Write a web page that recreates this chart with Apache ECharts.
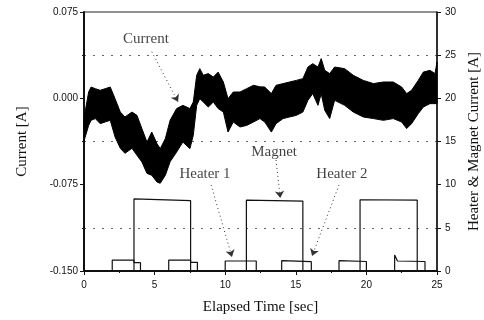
<!DOCTYPE html>
<html>
<head>
<meta charset="utf-8">
<title>Current vs elapsed time</title>
<script src="https://cdn.jsdelivr.net/npm/echarts@6/dist/echarts.min.js"></script>
<style type="text/css">
html, body{
    margin: 0;
    padding: 0;
    background: #fff;
}
#chart{
    width: 484px;
    height: 320px;
}
</style>
</head>
<body>
<div id="chart"></div>
<script>
// current band: upper / lower envelope of the noisy trace [A]
var timeSec = [0,0.33,0.5,0.8,1.15,1.5,1.86,2.2,2.57,2.9,3.4,3.75,4.1,4.46,4.8,5.17,5.4,5.76,6.1,6.56,7.0,7.5,7.74,7.98,8.2,8.45,8.8,9.16,9.5,9.87,10.2,10.57,11.05,11.52,12.0,12.46,12.8,13.27,13.6,14.1,14.56,15.04,15.5,15.86,16.2,16.57,16.8,17.05,17.4,17.75,18.46,19.07,19.78,20.5,21.2,21.9,22.5,22.85,23.2,23.67,24.03,24.5,24.86,25];
var currentUpper = [-0.017,0.0055,0.0098,0.0084,0.0070,0.0084,0.0098,-0.0003,-0.0119,-0.0162,-0.0119,-0.0148,-0.0263,-0.0380,-0.0293,-0.0394,-0.0437,-0.0350,-0.0190,-0.0089,-0.0061,-0.0089,-0.0032,0.0200,0.0258,0.0200,0.0215,0.0185,0.0228,0.0142,-0.0003,0.0055,0.0055,0.0084,0.0113,0.0100,0.0098,0.0041,0.0113,0.0128,0.0142,0.0156,0.0171,0.0272,0.0301,0.0272,0.0345,0.0243,0.0215,0.0272,0.0258,0.0200,0.0156,0.0128,0.0142,0.0142,0.0098,0.0041,0.0070,0.0156,0.0228,0.0243,0.0215,0.0315];
var currentLower = [-0.037,-0.0235,-0.0191,-0.0176,-0.0220,-0.0205,-0.0191,-0.0336,-0.0434,-0.0478,-0.0434,-0.0495,-0.0553,-0.0652,-0.0669,-0.0727,-0.0738,-0.0669,-0.0550,-0.0467,-0.0380,-0.0437,-0.0321,-0.0061,-0.0003,-0.0032,-0.0076,-0.0032,-0.0089,-0.0119,-0.0293,-0.0206,-0.0249,-0.0235,-0.0206,-0.0176,-0.0206,-0.0293,-0.0220,-0.0176,-0.0162,-0.0148,-0.0119,-0.0017,0.0041,-0.0061,0.0041,-0.0104,-0.0176,-0.0017,-0.0061,-0.0119,-0.0162,-0.0176,-0.0191,-0.0176,-0.0206,-0.0263,-0.0220,-0.0133,-0.0076,-0.0046,-0.0046,-0.0046];

// heater & magnet traces [sec, A] (right axis)
var magnetPts = [[0,0],[3.54,0],[3.54,8.35],[7.55,8.15],[7.55,0],[11.5,0],[11.5,8.2],[15.5,8.1],[15.5,0],[19.55,0],[19.55,8.25],[23.6,8.2],[23.6,0],[25,0]];
var heater1Pts = [[0,0],[2.0,0],[2.0,1.27],[3.54,1.27],[3.54,0.96],[4.0,0.96],[4.0,0],[10.0,0],[10.0,1.16],[12.2,1.16],[12.2,0],[18.06,0],[18.06,1.2],[20.0,1.1],[20.0,0],[25,0]];
var heater2Pts = [[0,0],[6.0,0],[6.0,1.27],[7.55,1.27],[7.55,1.0],[8.03,1.0],[8.03,0],[14.0,0],[14.0,1.2],[16.1,1.08],[16.1,0],[22.0,0],[22.0,1.85],[22.2,1.16],[24.15,1.1],[24.15,0],[25,0]];

// annotations (right axis units)
var noteNames = ['Current', 'Heater 1', 'Magnet', 'Heater 2'];
var notePos = [[4.39, 26.9], [8.57, 11.24], [13.46, 13.79], [18.27, 11.24]];
var arrowFrom = [[4.8, 25.4], [9.0, 9.97], [13.6, 12.86], [18.06, 9.97]];
var arrowTo = [[6.66, 19.6], [10.48, 1.62], [13.9, 8.46], [16.15, 1.74]];

var xTicks = [0, 25, 5];
var leftTicks = [-0.15, 0.075, 0.075];
var rightTicks = [0, 30, 5];

var chart = echarts.init(document.getElementById('chart'));

var bandData = timeSec.map((t, i) => [t, currentUpper[i], currentLower[i]]);
var noteData = noteNames.map((n, i) => ({name: n, value: notePos[i]}));
var arrowData = arrowFrom.map((p, i) => [{coord: p}, {coord: arrowTo[i]}]);

// whole envelope as one polygon: upper edge forward, lower edge back
var renderBand = (params, api) => {
    if (params.dataIndex !== 0) return null;
    var pts = [];
    for (var i = 0; i < timeSec.length; i++) pts.push(api.coord([timeSec[i], currentUpper[i]]));
    for (var j = timeSec.length - 1; j >= 0; j--) pts.push(api.coord([timeSec[j], currentLower[j]]));
    return {
        type: 'polygon',
        shape: {points: pts},
        style: {fill: '#000', stroke: '#000', lineWidth: 1}
    };
};

var tickFont = {fontFamily: 'Liberation Sans', fontSize: 10, color: '#111'};
var nameFont = {fontFamily: 'Liberation Serif', fontSize: 15, color: '#111'};

var traceLine = {color: '#111', width: 1.2};

chart.setOption({
    animation: false,
    grid: {
        left: 84, right: 47, top: 12, bottom: 49,
        outerBoundsMode: 'none',
        show: true, borderColor: '#222', borderWidth: 1
    },
    xAxis: {
        type: 'value',
        min: xTicks[0], max: xTicks[1], interval: xTicks[2],
        name: 'Elapsed Time [sec]',
        nameLocation: 'middle', nameGap: 29,
        nameTextStyle: nameFont,
        axisLine: {onZero: false, lineStyle: {color: '#111', width: 2}},
        axisTick: {inside: false, length: 4, lineStyle: {color: '#111'}},
        minorTick: {show: true, splitNumber: 2, length: 2, lineStyle: {color: '#111'}},
        axisLabel: Object.assign({margin: 9}, tickFont),
        splitLine: {show: false}
    },
    yAxis: [
        {
            type: 'value',
            min: leftTicks[0], max: leftTicks[1], interval: leftTicks[2],
            name: 'Current [A]',
            nameLocation: 'middle', nameGap: 54, nameRotate: 90,
            nameTextStyle: nameFont,
            axisLine: {show: true, onZero: false, lineStyle: {color: '#111', width: 2}},
            axisTick: {show: true, inside: false, length: 4, lineStyle: {color: '#111'}},
            minorTick: {show: true, splitNumber: 2, length: 2, lineStyle: {color: '#111'}},
            axisLabel: Object.assign({
                margin: 6,
                formatter: v => (Math.abs(v) < 1e-9 ? 0 : v).toFixed(3)
            }, tickFont),
            splitLine: {show: false},
            minorSplitLine: {show: true, lineStyle: {color: '#666', width: 1, type: [2, 7]}}
        },
        {
            type: 'value',
            position: 'right',
            min: rightTicks[0], max: rightTicks[1], interval: rightTicks[2],
            name: 'Heater & Magnet Current [A]',
            nameLocation: 'middle', nameGap: 29, nameRotate: 90,
            nameTextStyle: nameFont,
            axisLine: {show: true, onZero: false, lineStyle: {color: '#111', width: 1.5}},
            axisTick: {show: true, inside: false, length: 4, lineStyle: {color: '#111'}},
            axisLabel: Object.assign({margin: 8}, tickFont),
            splitLine: {show: false}
        }
    ],
    series: [
        {
            type: 'custom', yAxisIndex: 0,
            data: bandData,
            encode: {x: 0, y: [1, 2]},
            renderItem: renderBand,
            silent: true
        },
        {type: 'line', yAxisIndex: 1, data: magnetPts, symbol: 'none', lineStyle: traceLine},
        {type: 'line', yAxisIndex: 1, data: heater1Pts, symbol: 'none', lineStyle: traceLine},
        {type: 'line', yAxisIndex: 1, data: heater2Pts, symbol: 'none', lineStyle: traceLine},
        {
            type: 'scatter', yAxisIndex: 1,
            data: noteData, symbolSize: 0, silent: true,
            label: {
                show: true, position: 'inside',
                formatter: p => p.name,
                fontFamily: 'Liberation Serif', fontSize: 15, color: '#111'
            },
            markLine: {
                silent: true,
                symbol: ['none', 'arrow'], symbolSize: 7,
                label: {show: false},
                lineStyle: {color: '#333', width: 1, type: [1, 3]},
                data: arrowData
            }
        }
    ]
});
</script>
</body>
</html>
